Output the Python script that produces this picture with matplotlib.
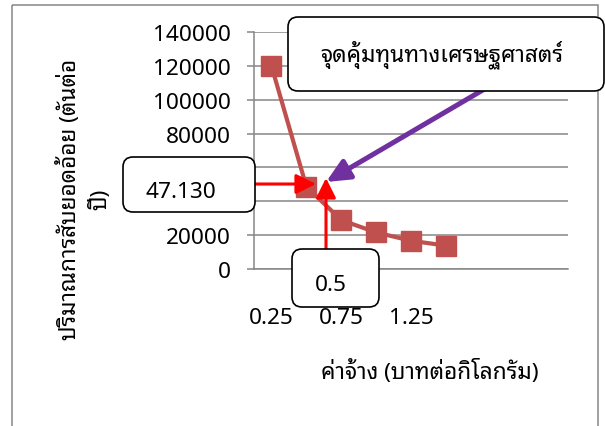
import matplotlib
matplotlib.use("Agg")
import matplotlib.pyplot as plt
from matplotlib import font_manager as fm
from matplotlib.patches import FancyBboxPatch, Rectangle

# cari font Thai yang terpasang
font_thai = "DejaVu Sans"
for nama in ["Noto Sans Thai Looped", "Noto Sans Thai", "Loma", "FreeSerif"]:
    try:
        fm.findfont(fm.FontProperties(family=nama), fallback_to_default=False)
        font_thai = nama
        break
    except ValueError:
        pass
plt.rcParams["font.family"] = ["Noto Sans", font_thai]

# data
kategori = ["0.25", "0.5", "0.75", "1", "1.25", "1.5", "", "", ""]
nilai    = [120000, 48700, 28900, 21600, 16700, 13800]
label_y  = "ปริมาณการสับยอดอ้อย (ตันต่อ\nปี)"
label_x  = "ค่าจ้าง (บาทต่อกิโลกรัม)"
teks_titik = "จุดคุ้มทุนทางเศรษฐศาสตร์"
teks_y_titik = "47.130"
teks_x_titik = "0.5"

W, H = 605, 427
fs = 16.3
abu = "#868686"
tipis = "light"   # huruf Thai di gambar asli lebih tipis

fig = plt.figure(figsize=(W / 100, H / 100), dpi=100)
ax = fig.add_axes([254 / W, 1 - 270 / H, 314 / W, 237 / H])

posisi = list(range(len(kategori)))
ax.plot(posisi[:len(nilai)], nilai, color="#C0504D", lw=3, marker="s",
        markersize=14, zorder=3)

ax.set_xlim(-0.5, len(kategori) - 0.5)
ax.set_ylim(0, 140000)
ax.set_yticks(range(0, 140001, 20000))
ax.set_xticks(posisi[::2])
ax.set_xticklabels(kategori[::2], fontsize=fs)
ax.tick_params(axis="y", labelsize=fs, length=5, color=abu, width=1.1, pad=12)
ax.tick_params(axis="x", length=0, pad=27)
ax.grid(axis="y", color=abu, lw=1.1)
ax.set_axisbelow(True)
for s in ["top", "right"]:
    ax.spines[s].set_visible(False)
for s in ["left", "bottom"]:
    ax.spines[s].set_color(abu)
    ax.spines[s].set_linewidth(1.1)

ax.set_ylabel(label_y, fontsize=fs, linespacing=1.5, weight=tipis, va="center")
ax.yaxis.set_label_coords((84 - 254) / 314, (270 - 199) / 237)
ax.set_xlabel(label_x, fontsize=fs, weight=tipis, va="center")
ax.xaxis.set_label_coords((430 - 254) / 314, (270 - 372) / 237)

# lapisan anotasi dalam koordinat piksel
ov = fig.add_axes([0, 0, 1, 1], zorder=5)
ov.set_xlim(0, W)
ov.set_ylim(H, 0)
ov.axis("off")
ov.patch.set_alpha(0)

ov.add_patch(Rectangle((12, 6), 586, 440, fill=False, ec=abu, lw=1.1,
                       clip_on=False))

panah_merah = dict(arrowstyle="-|>,head_length=1.2,head_width=0.6",
                   color="#FF0000", lw=2.2, shrinkA=0, shrinkB=0)
ov.annotate("", xy=(316, 185), xytext=(255, 185), arrowprops=panah_merah)
ov.annotate("", xy=(326, 179), xytext=(326, 250), arrowprops=panah_merah)
ov.annotate("", xy=(326, 183), xytext=(505, 78),
            arrowprops=dict(arrowstyle="-|>,head_length=1.4,head_width=0.65",
                            color="#7030A0", lw=3.6, shrinkA=0, shrinkB=0))

def kotak(x0, y0, x1, y1, teks, tx, ty, **kw):
    ov.add_patch(FancyBboxPatch((x0 + 10, y0 + 10), x1 - x0 - 20, y1 - y0 - 20,
                                boxstyle="round,pad=10,rounding_size=10",
                                fc="white", ec="black", lw=1.2, zorder=6))
    ov.text(tx, ty, teks, fontsize=fs, ha="center", va="center", zorder=7, **kw)

kotak(123, 158, 255, 213, teks_y_titik, 181, 193)
kotak(292, 250, 379, 308, teks_x_titik, 331, 286)
kotak(288, 18, 604, 92, teks_titik, 442, 55, weight=tipis)

fig.savefig("out.png", dpi=100)
